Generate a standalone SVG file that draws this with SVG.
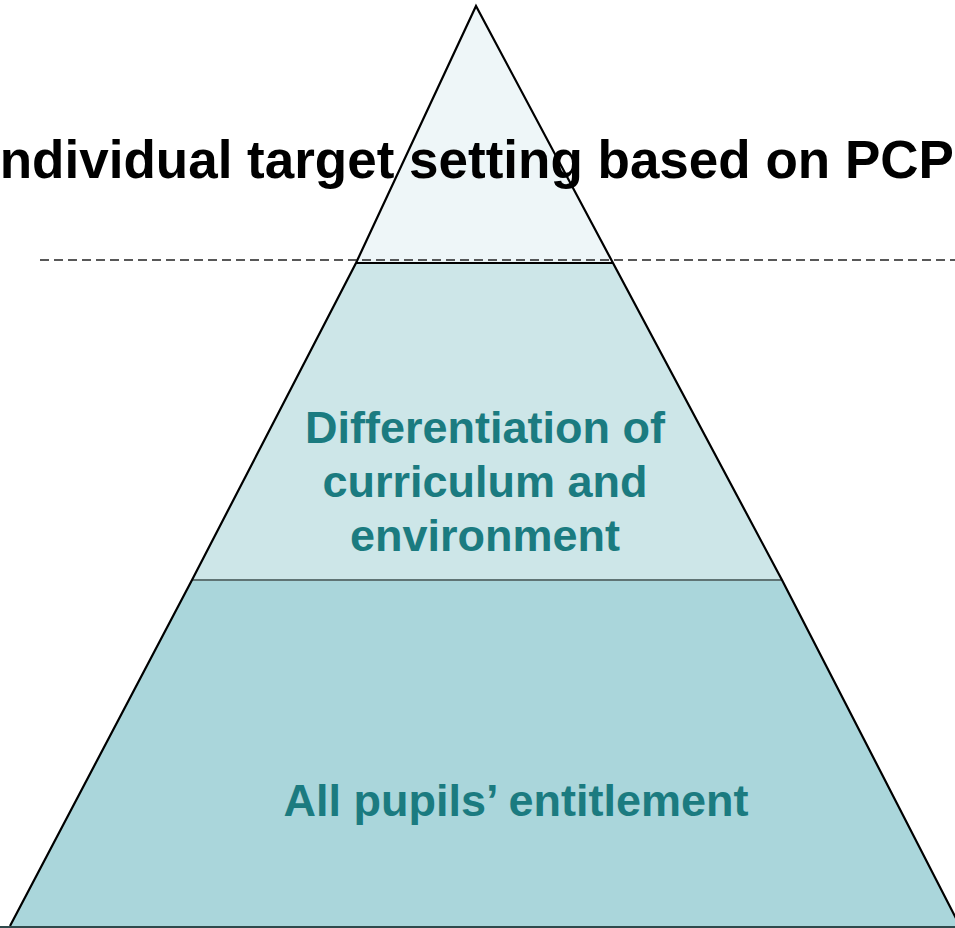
<svg xmlns="http://www.w3.org/2000/svg" width="955" height="928" viewBox="0 0 955 928">
<style>
.edge{stroke:#000;stroke-width:2.2;fill:none;stroke-linejoin:miter}
.teal{font-family:"Liberation Sans",Arial,sans-serif;font-weight:bold;font-size:45px;fill:#1B7B80;text-anchor:middle}
.title{font-family:"Liberation Sans",Arial,sans-serif;font-weight:bold;font-size:53px;fill:#000}
</style>
<rect width="955" height="928" fill="#fff"/>
<g id="base-tier">
<polygon points="192,580 782,580 960,926 10,926" fill="#AAD6DB"/>
<text class="teal" x="516" y="816">All pupils’ entitlement</text>
</g>
<g id="middle-tier">
<polygon points="356,263 613,263 782,580 192,580" fill="#CDE6E8"/>
<line x1="192" y1="580" x2="782" y2="580" stroke="#5F7474" stroke-width="2"/>
<text class="teal" x="485" y="443">Differentiation of</text>
<text class="teal" x="485" y="497">curriculum and</text>
<text class="teal" x="485" y="551">environment</text>
</g>
<g id="top-tier">
<polygon points="476,6 613,263 356,263" fill="#EEF6F8"/>
<line x1="356" y1="263" x2="613" y2="263" stroke="#000" stroke-width="2"/>
</g>
<g id="outline">
<polyline class="edge" points="10,926 192,580 356,263 476,6 613,263 782,580 960,926"/>
<line x1="0" y1="927" x2="955" y2="927" stroke="#2E4A4C" stroke-width="2"/>
</g>
<g id="connectors">
<line x1="40" y1="260" x2="955" y2="260" stroke="#222" stroke-width="1.4" stroke-dasharray="9,5"/>
</g>
<g id="title">
<text class="title" x="-15" y="178">Individual target setting based on PCP</text>
</g>
</svg>
